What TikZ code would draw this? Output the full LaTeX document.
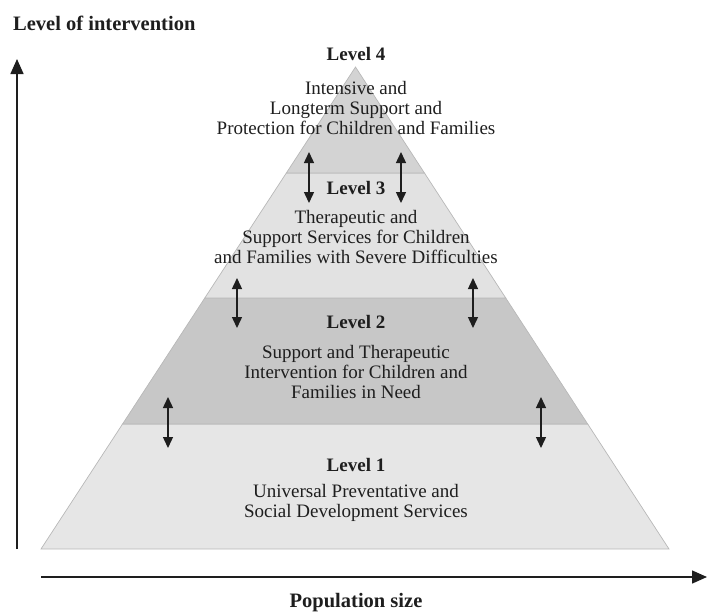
\documentclass[tikz,border=0pt]{standalone}
\usepackage{fontspec}
\setmainfont{Liberation Serif}
\usetikzlibrary{arrows.meta,calc}
\definecolor{lvfour}{HTML}{D3D3D3}
\definecolor{lvthree}{HTML}{E2E2E2}
\definecolor{lvtwo}{HTML}{C7C7C7}
\definecolor{lvone}{HTML}{E6E6E6}
\definecolor{edgegray}{HTML}{B8B8B8}
\definecolor{txt}{HTML}{1E1E1E}
\begin{document}
\begin{tikzpicture}[x=1pt,y=-1pt,
  layer/.style={draw=edgegray,line width=0.7pt},
  bodytext/.style={text=txt,align=center,font=\fontsize{19}{20.3}\selectfont,inner sep=0pt},
  headtext/.style={text=txt,align=center,font=\fontsize{19}{20}\selectfont\bfseries,inner sep=0pt},
  axistext/.style={text=txt,align=center,font=\fontsize{20.5}{22}\selectfont\bfseries,inner sep=0pt},
  axis/.style={draw=txt,line width=1.5pt,-{Triangle[length=15pt,width=13pt]}},
  dbl/.style={draw=txt,line width=1.4pt,{Triangle[length=11pt,width=10pt]}-{Triangle[length=11pt,width=10pt]}}]
\useasboundingbox (0,0) rectangle (707,614);
% pyramid corners
\coordinate (apex) at (355.5,67);
\coordinate (bl) at (41,549);
\coordinate (br) at (669,549);
\coordinate (l43) at ($(apex)!0.2199!(bl)$);
\coordinate (r43) at ($(apex)!0.2199!(br)$);
\coordinate (l32) at ($(apex)!0.4793!(bl)$);
\coordinate (r32) at ($(apex)!0.4793!(br)$);
\coordinate (l21) at ($(apex)!0.7407!(bl)$);
\coordinate (r21) at ($(apex)!0.7407!(br)$);
% layers
\filldraw[layer,fill=lvone] (l21) -- (r21) -- (br) -- (bl) -- cycle;
\filldraw[layer,fill=lvtwo] (l32) -- (r32) -- (r21) -- (l21) -- cycle;
\filldraw[layer,fill=lvthree] (l43) -- (r43) -- (r32) -- (l32) -- cycle;
\filldraw[layer,fill=lvfour] (apex) -- (r43) -- (l43) -- cycle;
% axes
\coordinate (vbot) at (17,549);
\coordinate (vtop) at (17,59);
\coordinate (hleft) at (41,577);
\coordinate (hright) at (707,577);
\draw[axis] (vbot) -- (vtop);
\draw[axis] (hleft) -- (hright);
% double arrows
\coordinate (a1t) at (309,152); \coordinate (a1b) at (309,203);
\coordinate (a2t) at (401,152); \coordinate (a2b) at (401,203);
\coordinate (a3t) at (237,278); \coordinate (a3b) at (237,328);
\coordinate (a4t) at (473,278); \coordinate (a4b) at (473,328);
\coordinate (a5t) at (168,397); \coordinate (a5b) at (168,448);
\coordinate (a6t) at (541,397); \coordinate (a6b) at (541,448);
\draw[dbl] (a1t) -- (a1b);
\draw[dbl] (a2t) -- (a2b);
\draw[dbl] (a3t) -- (a3b);
\draw[dbl] (a4t) -- (a4b);
\draw[dbl] (a5t) -- (a5b);
\draw[dbl] (a6t) -- (a6b);
% texts
\node[axistext,anchor=west] (yl) at (13,23) {Level of intervention};
\node[axistext] (xl) at (356,603) {Population size};
\node[headtext] (h4) at (356,54) {Level 4};
\node[bodytext] (t4) at (356,108) {Intensive and\\Longterm Support and\\Protection for Children and Families};
\node[headtext] (h3) at (356,188) {Level 3};
\node[bodytext] (t3) at (356,237) {Therapeutic and\\Support Services for Children\\and Families with Severe Difficulties};
\node[headtext] (h2) at (356,322) {Level 2};
\node[bodytext] (t2) at (356,372) {Support and Therapeutic\\Intervention for Children and\\Families in Need};
\node[headtext] (h1) at (356,465) {Level 1};
\node[bodytext] (t1) at (356,503) {Universal Preventative and\\Social Development Services};
\end{tikzpicture}
\end{document}
